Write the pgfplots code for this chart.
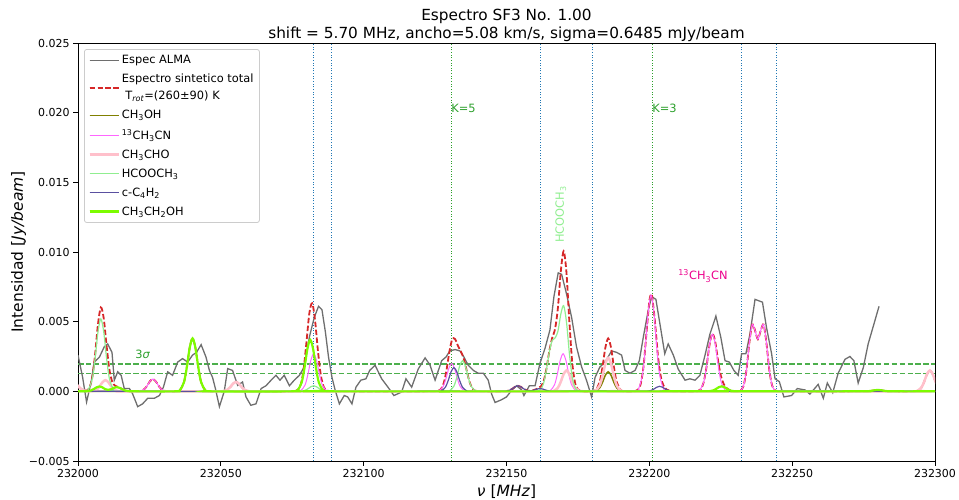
\documentclass[border=0pt]{standalone}
\usepackage{fontspec}
\setmainfont{DejaVu Sans}
\usepackage{pgfplots}
\pgfplotsset{compat=1.18}
\definecolor{tabblue}{HTML}{1F77B4}
\definecolor{tabgreen}{HTML}{2CA02C}
\definecolor{tabred}{HTML}{D62728}
\definecolor{almagray}{HTML}{6E6E6E}
\definecolor{olivec}{HTML}{808000}
\definecolor{violetc}{HTML}{FF66FF}
\definecolor{pinkc}{HTML}{FFC0CB}
\definecolor{lightgreenc}{HTML}{90EE90}
\definecolor{slatec}{HTML}{5A50A0}
\definecolor{lawngreenc}{HTML}{7CFC00}
\definecolor{legframe}{HTML}{CCCCCC}
\definecolor{sigmagreen}{HTML}{4CAF4C}
\begin{document}
\begin{tikzpicture}
\useasboundingbox (0,0) rectangle (959pt,499pt);
\begin{axis}[
 at={(78pt,38pt)}, anchor=south west,
 width=857pt, height=418pt, scale only axis,
 xmin=0, xmax=300, ymin=-0.005, ymax=0.025,
 xtick={0,50,100,150,200,250,300},
 xticklabels={232000,232050,232100,232150,232200,232250,232300},
 ytick={-0.005,0,0.005,0.01,0.015,0.02,0.025},
 yticklabels={−0.005,0.000,0.005,0.010,0.015,0.020,0.025},
 scaled ticks=false,
 tick align=outside, tick pos=left, major tick length=4.9pt,
 every tick/.style={black, line width=0.9pt},
 axis line style={line width=0.9pt},
 tick label style={font=\fontsize{11}{13}\selectfont},
 label style={font=\fontsize{15.5}{18}\selectfont},
 ylabel style={yshift=-4pt},
 xlabel={\textit{ν} [\textit{MHz}]},
 ylabel={Intensidad [\textit{Jy/beam}]},
 title={Espectro SF3 No. 1.00\\shift = 5.70 MHz, ancho=5.08 km/s, sigma=0.6485 mJy/beam},
 title style={font=\fontsize{15.3}{18}\selectfont, align=center, yshift=-8.5pt},
 legend style={at={(axis description cs:0,1)}, anchor=north west, xshift=6pt, yshift=-6pt,
   draw=legframe, line width=0.8pt, rounded corners=2.5pt,
   fill=white, fill opacity=0.8, text opacity=1,
   font=\fontsize{11.4}{17}\selectfont,
   cells={anchor=west, align=left}, row sep=5pt, inner xsep=4pt, inner ysep=4pt},
 legend image code/.code={\draw[#1] (0pt,0pt) -- (24pt,0pt); \path (0pt,0pt) -- (29pt,0pt);},
 every axis plot/.append style={mark=none},
]
% reference lines
\addplot[forget plot, tabblue, line width=1pt, dash pattern=on 1pt off 1.65pt] coordinates {(82.5,-0.005) (82.5,0.025)};
\addplot[forget plot, tabblue, line width=1pt, dash pattern=on 1pt off 1.65pt] coordinates {(88.6,-0.005) (88.6,0.025)};
\addplot[forget plot, tabblue, line width=1pt, dash pattern=on 1pt off 1.65pt] coordinates {(162.0,-0.005) (162.0,0.025)};
\addplot[forget plot, tabblue, line width=1pt, dash pattern=on 1pt off 1.65pt] coordinates {(180.0,-0.005) (180.0,0.025)};
\addplot[forget plot, tabblue, line width=1pt, dash pattern=on 1pt off 1.65pt] coordinates {(232.4,-0.005) (232.4,0.025)};
\addplot[forget plot, tabblue, line width=1pt, dash pattern=on 1pt off 1.65pt] coordinates {(244.4,-0.005) (244.4,0.025)};
\addplot[forget plot, tabgreen, line width=1pt, dash pattern=on 1pt off 1.65pt] coordinates {(130.6,-0.005) (130.6,0.025)};
\addplot[forget plot, tabgreen, line width=1pt, dash pattern=on 1pt off 1.65pt] coordinates {(201.0,-0.005) (201.0,0.025)};
\addplot[forget plot, sigmagreen, line width=1.5pt, dash pattern=on 5.5pt off 2.4pt] coordinates {(0,0.001297) (300,0.001297)};
\addplot[forget plot, sigmagreen, line width=1.5pt, dash pattern=on 5.5pt off 2.4pt] coordinates {(0,0.0019455) (300,0.0019455)};
% ALMA spectrum
\addplot[almagray, line width=1.3pt] coordinates {
(0.0,0.0026)(1.6,0.00103)(3.0,-0.00077)(4.6,0.00067)(5.7,0.0021)(7.5,0.00246)(9.2,0.0032)(10.4,0.0034)(11.9,0.0028)(12.7,0.0008)(13.9,0.0014)(15.1,0.00115)(16.2,0.0002)(18.0,0.0002)(19.1,-0.00017)(20.9,-0.0011)(22.6,-0.0009)(24.4,-0.0005)(26.7,-0.0005)(28.5,-0.0003)(29.9,0.0003)(31.4,0.0014)(33.1,0.00115)(34.9,0.0021)(36.6,0.00235)(38.4,0.0021)(40.1,0.0026)(41.5,0.0028)(43.1,0.00335)(44.8,0.00246)(46.0,0.0015)(47.1,0.001)(48.1,0.0002)(49.5,-0.0011)(51.2,0.0)(52.4,0.00163)(54.1,0.0015)(55.9,0.00043)(57.6,0.00067)(58.8,-0.0004)(60.5,-0.001)(62.3,-0.0009)(64.1,0.0002)(65.8,0.0004)(67.6,0.0008)(69.3,0.00115)(70.7,0.0008)(72.2,0.00115)(74.0,0.0004)(75.7,0.0008)(77.5,0.00115)(79.2,0.00175)(81.0,0.0039)(82.7,0.0053)(84.2,0.0061)(85.4,0.00586)(86.6,0.00426)(87.7,0.00246)(88.9,0.001)(90.0,0.0001)(91.5,-0.0009)(93.2,-0.0003)(94.4,-0.0004)(95.9,-0.0009)(97.3,0.0003)(99.0,0.0008)(100.8,0.0009)(102.1,0.0015)(104.0,0.00187)(106.3,0.0009)(108.5,0.0003)(110.6,-0.0003)(113.3,-0.00005)(114.8,0.0009)(116.8,0.0003)(119.1,0.0016)(121.5,0.0024)(123.2,0.0019)(125.0,0.0008)(127.3,0.0022)(128.8,0.00246)(130.2,0.0029)(132.0,0.003)(133.7,0.0029)(135.1,0.00246)(136.6,0.00187)(138.4,0.0015)(140.1,0.0013)(141.9,0.0013)(143.6,0.0008)(144.8,-0.0002)(146.0,-0.0008)(148.3,-0.0006)(150.0,-0.0004)(151.8,0.00007)(153.5,0.0004)(155.3,0.0001)(156.1,-0.0003)(158.0,0.0004)(160.0,0.0004)(161.7,0.002)(163.5,0.0031)(165.2,0.0044)(166.6,0.0068)(168.1,0.0085)(169.3,0.0084)(171.0,0.007)(172.8,0.0053)(174.5,0.0032)(176.3,0.00175)(178.0,0.0008)(179.8,-0.0004)(181.0,0.001)(182.7,0.00175)(184.5,0.0021)(186.8,0.0029)(188.5,0.0028)(190.3,0.0026)(191.5,0.0015)(193.2,0.0013)(195.0,0.0015)(196.5,0.0022)(197.9,0.0039)(199.6,0.0058)(200.8,0.0068)(202.3,0.0066)(203.9,0.0046)(205.4,0.0027)(206.6,0.0034)(208.4,0.0026)(210.1,0.0016)(212.5,0.0008)(214.2,0.0009)(216.0,0.0008)(217.7,0.00115)(219.5,0.0026)(221.2,0.0041)(223.3,0.0054)(225.0,0.0039)(226.5,0.0022)(228.0,0.0021)(229.6,0.0015)(231.1,0.00115)(232.3,0.0027)(233.8,0.0027)(235.2,0.0041)(237.0,0.0066)(239.6,0.0064)(241.0,0.0046)(242.8,0.0027)(244.0,0.0009)(245.5,0.0007)(247.1,-0.0004)(249.8,-0.0003)(251.8,0.0002)(254.5,0.0001)(256.2,-0.0002)(259.1,0.0005)(260.9,-0.0005)(262.3,0.0006)(264.2,-0.0001)(266.1,0.0013)(268.5,0.0023)(270.2,0.0025)(271.6,0.0022)(273.1,0.0006)(274.9,0.0017)(276.6,0.0034)(279.0,0.0051)(280.4,0.0061)};
\addlegendentry{Espec ALMA}
% total synthetic
\addplot[tabred, line width=1.8pt, dash pattern=on 5.5pt off 2.4pt, smooth] coordinates {
(0,0.00039)(1,0.00018)(2,0.00006)(3,0.00005)(4,0.00026)(5,0.00101)(6,0.00267)(7,0.00483)(8,0.00602)(9,0.00526)(10,0.00328)(11,0.00155)(12,0.00068)(13,0.0004)(14,0.00031)(15,0.00021)(16,0.0001)(17,0.00003)(18,0.00001)(19,0)
(20.2,0)(21.7,0.0000169)(23.2,0.000152)(24.2,0.000403)(25.2,0.000724)(26.2,0.00088)(27.2,0.000724)(28.2,0.000403)(29.2,0.000152)(30.7,0.0000169)(32.2,0)
(34.1,0)(35.6,0.000073)(37.1,0.000655)(38.1,0.00174)(39.1,0.003126)(40.1,0.0038)(41.1,0.003126)(42.1,0.00174)(43.1,0.000655)(44.6,0.000073)(46.1,0)
(49.3,0)(50.8,0.0000129)(52.3,0.000116)(53.3,0.000307)(54.3,0.000551)(55.3,0.00067)(56.3,0.000551)(57.3,0.000307)(58.3,0.000116)(59.8,0.0000129)(61.3,0)
(75,0)(76,0.00002)(77,0.00011)(78,0.0005)(79,0.0016)(80,0.00358)(81,0.00563)(82,0.00632)(83,0.00506)(84,0.00289)(85,0.00117)(86,0.00033)(87,0.00007)(88,0.00001)(89,0)
(125,0)(126,0.00002)(127,0.00015)(128,0.00057)(129,0.00152)(130,0.00283)(131,0.00374)(132,0.00375)(133,0.00327)(134,0.00287)(135,0.00238)(136,0.00155)(137,0.00072)(138,0.00023)(139,0.00005)(140,0.00001)(141,0)
(149,0)(150,0.00002)(151,0.00007)(152,0.00018)(153,0.00033)(154,0.0004)(155,0.00033)(156,0.00018)(157,0.00007)(158,0.00003)(159,0.00005)(160,0.00012)(161,0.00021)(162,0.00035)(163,0.00073)(164,0.00164)(165,0.0029)(166,0.00384)(167,0.00448)(168,0.006)(169,0.00859)(170,0.01006)(171,0.0085)(172,0.00503)(173,0.00209)(174,0.00061)(175,0.00013)(176,0.00002)(177,0)
(179.6,0)(181.1,0.000073)(182.6,0.000655)(183.6,0.00174)(184.6,0.003126)(185.6,0.0038)(186.6,0.003126)(187.6,0.00174)(188.6,0.000655)(190.1,0.000073)(191.6,0)
(194,0)(195,0.000015)(196,0.00011)(197,0.00055)(198,0.00185)(199,0.00419)(200,0.00646)(200.6,0.00696)(201,0.00678)(202,0.00492)(203,0.00258)(204,0.00107)(205,0.0004)(206,0.00014)(207,0.00004)(208,0.00001)(209,0)
(216,0)(217,0.000025)(218,0.00015)(219,0.00063)(220,0.00173)(221,0.00325)(222,0.00414)(223,0.00363)(224,0.00228)(225,0.00115)(226,0.00054)(227,0.00024)(228,0.00009)(229,0.000025)(230,0.000005)
(231,0.00001)(232,0.000065)(233,0.0004)(234,0.00153)(235,0.00346)(236,0.00479)(237,0.00437)(238,0.00374)(239,0.00437)(240,0.00479)(241,0.00346)(242,0.00153)(243,0.0004)(244,0.000065)(245,0.00001)(246,0)
(274,0)(277,0.000017)(278,0.000046)(279,0.000082)(280,0.0001)(281,0.000082)(282,0.000046)(283,0.000017)(286,0)
(292,0)(293,0.000008)(294,0.000048)(295,0.0002)(296,0.00058)(297,0.00113)(298,0.00149)(299,0.00132)(300,0.0008)(301,0.00032)};
\addlegendentry{Espectro sintetico total\\\hspace*{3.5pt}T\textsubscript{\textit{rot}}=(260±90) K}
% CH3OH
\addplot[olivec, line width=1.5pt, smooth] coordinates {
(0,0)(179.6,0)(181.1,0.0000269)(182.6,0.000241)(183.6,0.000641)(184.6,0.001152)(185.6,0.0014)(186.6,0.001152)(187.6,0.000641)(188.6,0.000241)(190.1,0.0000269)(191.6,0)(300,0)};
\addlegendentry{CH\textsubscript{3}OH}
% 13CH3CN
\addplot[violetc, line width=1pt, smooth] coordinates {
(0,0)(20.2,0)(21.7,0.0000169)(23.2,0.000152)(24.2,0.000403)(25.2,0.000724)(26.2,0.00088)(27.2,0.000724)(28.2,0.000403)(29.2,0.000152)(30.7,0.0000169)(32.2,0)
(76.5,0)(78,0.000052)(79.5,0.000465)(80.5,0.001236)(81.5,0.002221)(82.5,0.0027)(83.5,0.002221)(84.5,0.001236)(85.5,0.000465)(87,0.000052)(88.5,0)
(124.8,0)(126.3,0.0000384)(127.8,0.000345)(128.8,0.000916)(129.8,0.001645)(130.8,0.002)(131.8,0.001645)(132.8,0.000916)(133.8,0.000345)(135.3,0.0000384)(136.8,0)
(163.8,0)(165.3,0.000052)(166.8,0.000465)(167.8,0.001236)(168.8,0.002221)(169.8,0.0027)(170.8,0.002221)(171.8,0.001236)(172.8,0.000465)(174.3,0.000052)(175.8,0)
(194.6,0)(196.1,0.000132)(197.6,0.00119)(198.6,0.003159)(199.6,0.005676)(200.6,0.0069)(201.6,0.005676)(202.6,0.003159)(203.6,0.00119)(205.1,0.000132)(206.6,0)
(216.1,0)(217.6,0.0000787)(219.1,0.000707)(220.1,0.001877)(221.1,0.003373)(222.1,0.0041)(223.1,0.003373)(224.1,0.001877)(225.1,0.000707)(226.6,0.0000787)(228.1,0)
(230,0)(231,0.00001)(232,0.000065)(233,0.0004)(234,0.00153)(235,0.00346)(236,0.00479)(237,0.00437)(238,0.00374)(239,0.00437)(240,0.00479)(241,0.00346)(242,0.00153)(243,0.0004)(244,0.000065)(245,0.00001)(246,0)(300,0)};
\addlegendentry{\textsuperscript{13}CH\textsubscript{3}CN}
% CH3CHO
\addplot[pinkc, line width=2.5pt, smooth] coordinates {
(-7.5,0)(-6,0.0000115)(-4.5,0.000103)(-3.5,0.000275)(-2.5,0.000494)(-1.5,0.0006)(-0.5,0.000494)(0.5,0.000275)(1.5,0.000103)(3,0.0000115)
(5.1,0.0000154)(6.6,0.000138)(7.6,0.000366)(8.6,0.000658)(9.6,0.0008)(10.6,0.000658)(11.6,0.000366)(12.6,0.000138)(14.1,0.0000154)(15.6,0)
(49.3,0)(50.8,0.0000129)(52.3,0.000116)(53.3,0.000307)(54.3,0.000551)(55.3,0.00067)(56.3,0.000551)(57.3,0.000307)(58.3,0.000116)(59.8,0.0000129)(61.3,0)
(165,0)(166.5,0.0000288)(168,0.000259)(169,0.000687)(170,0.001234)(171,0.0015)(172,0.001234)(173,0.000687)(174,0.000259)(175.5,0.0000288)(177,0)
(179.6,0)(181.1,0.000046)(182.6,0.000414)(183.6,0.001099)(184.6,0.001974)(185.6,0.0024)(186.6,0.001974)(187.6,0.001099)(188.6,0.000414)(190.1,0.000046)(191.6,0)
(292.2,0)(293.7,0.0000288)(295.2,0.000259)(296.2,0.000687)(297.2,0.001234)(298.2,0.0015)(299.2,0.001234)(300.2,0.000687)(301.2,0.000259)(302.7,0.0000288)};
\addlegendentry{CH\textsubscript{3}CHO}
% HCOOCH3
\addplot[lightgreenc, line width=1.2pt, smooth] coordinates {
(0,0)(2,0)(3.5,0.0001)(5,0.000896)(6,0.00238)(7,0.004278)(8,0.0052)(9,0.004278)(10,0.00238)(11,0.000896)(12.5,0.0001)(14,0)
(76.5,0)(78,0.0000077)(79.5,0.000069)(80.5,0.000183)(81.5,0.000329)(82.5,0.0004)(83.5,0.000329)(84.5,0.000183)(85.5,0.000069)(87,0.0000077)(88.5,0)
(128.6,0)(130.1,0.000042)(131.6,0.000379)(132.6,0.001007)(133.6,0.00181)(134.6,0.0022)(135.6,0.00181)(136.6,0.001007)(137.6,0.000379)(139.1,0.000042)(140.6,0)
(159,0)(160,0.00001)(161,0.00003)(162,0.00015)(163,0.00059)(164,0.00157)(165,0.00284)(166,0.00366)(167,0.00383)(168,0.00431)(169,0.00553)(170,0.00615)(171,0.00497)(172,0.00275)(173,0.00103)(174,0.00026)(175,0.00005)(176,0.00001)(177,0)(300,0)};
\addlegendentry{HCOOCH\textsubscript{3}}
% c-C4H2
\addplot[slatec, line width=1.2pt, smooth] coordinates {
(0,0)(125.6,0)(127.1,0.0000326)(128.6,0.000293)(129.6,0.000778)(130.6,0.001398)(131.6,0.0017)(132.6,0.001398)(133.6,0.000778)(134.6,0.000293)(136.1,0.0000326)(137.6,0)
(148,0)(149.5,0.0000077)(151,0.000069)(152,0.000183)(153,0.000329)(154,0.0004)(155,0.000329)(156,0.000183)(157,0.000069)(158.5,0.000035)(159.7,0.0000916)(160.7,0.000165)(161.7,0.0002)(162.7,0.000165)(163.7,0.0000916)(164.7,0.0000345)(166.2,0.0000038)(167.7,0)
(197.6,0)(199.1,0.0000069)(200.6,0.000062)(201.6,0.000165)(202.6,0.000296)(203.6,0.00036)(204.6,0.000296)(205.6,0.000165)(206.6,0.000062)(208.1,0.0000069)(209.6,0)(300,0)};
\addlegendentry{c-C\textsubscript{4}H\textsubscript{2}}
% CH3CH2OH
\addplot[lawngreenc, line width=2.2pt, smooth] coordinates {
(0,0)(1.5,0)(3,0.0000067)(4.5,0.00006)(5.5,0.00016)(6.5,0.000288)(7.5,0.00035)(8.5,0.000288)(9.5,0.00016)(10.5,0.000106)(11.6,0.00015)(12.6,0.00025)(13.6,0.0003)(14.6,0.000247)(15.6,0.000137)(16.6,0.0000517)(18.1,0.0000058)(19.6,0)
(34.1,0)(35.6,0.000073)(37.1,0.000655)(38.1,0.00174)(39.1,0.003126)(40.1,0.0038)(41.1,0.003126)(42.1,0.00174)(43.1,0.000655)(44.6,0.000073)(46.1,0)
(75.3,0)(76.8,0.000071)(78.3,0.000638)(79.3,0.001694)(80.3,0.003044)(81.3,0.0037)(82.3,0.003044)(83.3,0.001694)(84.3,0.000638)(85.8,0.000071)(87.3,0)
(219.3,0)(220.8,0.0000069)(222.3,0.000062)(223.3,0.000165)(224.3,0.000296)(225.3,0.00036)(226.3,0.000296)(227.3,0.000165)(228.3,0.000062)(229.8,0.0000069)(231.3,0)
(274,0)(277,0.0000172)(278,0.0000458)(279,0.0000823)(280,0.0001)(281,0.0000823)(282,0.0000458)(283,0.0000172)(286,0)(300,0)};
\addlegendentry{CH\textsubscript{3}CH\textsubscript{2}OH}
% annotations
\node[anchor=base west, text=tabgreen, font=\fontsize{11.4}{13}\selectfont, inner sep=0pt] at (axis cs:20,0.00237) {3\textit{σ}};
\node[anchor=base west, text=tabgreen, font=\fontsize{11.4}{13}\selectfont, inner sep=0pt] at (axis cs:130.6,0.0200) {K=5};
\node[anchor=base west, text=tabgreen, font=\fontsize{11.4}{13}\selectfont, inner sep=0pt] at (axis cs:201.0,0.0200) {K=3};
\node[rotate=90, anchor=center, text=lightgreenc, font=\fontsize{11.4}{13}\selectfont, inner sep=0pt] at (axis cs:169.0,0.0127) {HCOOCH\textsubscript{3}};
\node[anchor=base west, text=magenta, font=\fontsize{11.4}{13}\selectfont, inner sep=0pt] at (axis cs:210.1,0.0080) {\textsuperscript{13}CH\textsubscript{3}CN};
\end{axis}
\end{tikzpicture}
\end{document}
